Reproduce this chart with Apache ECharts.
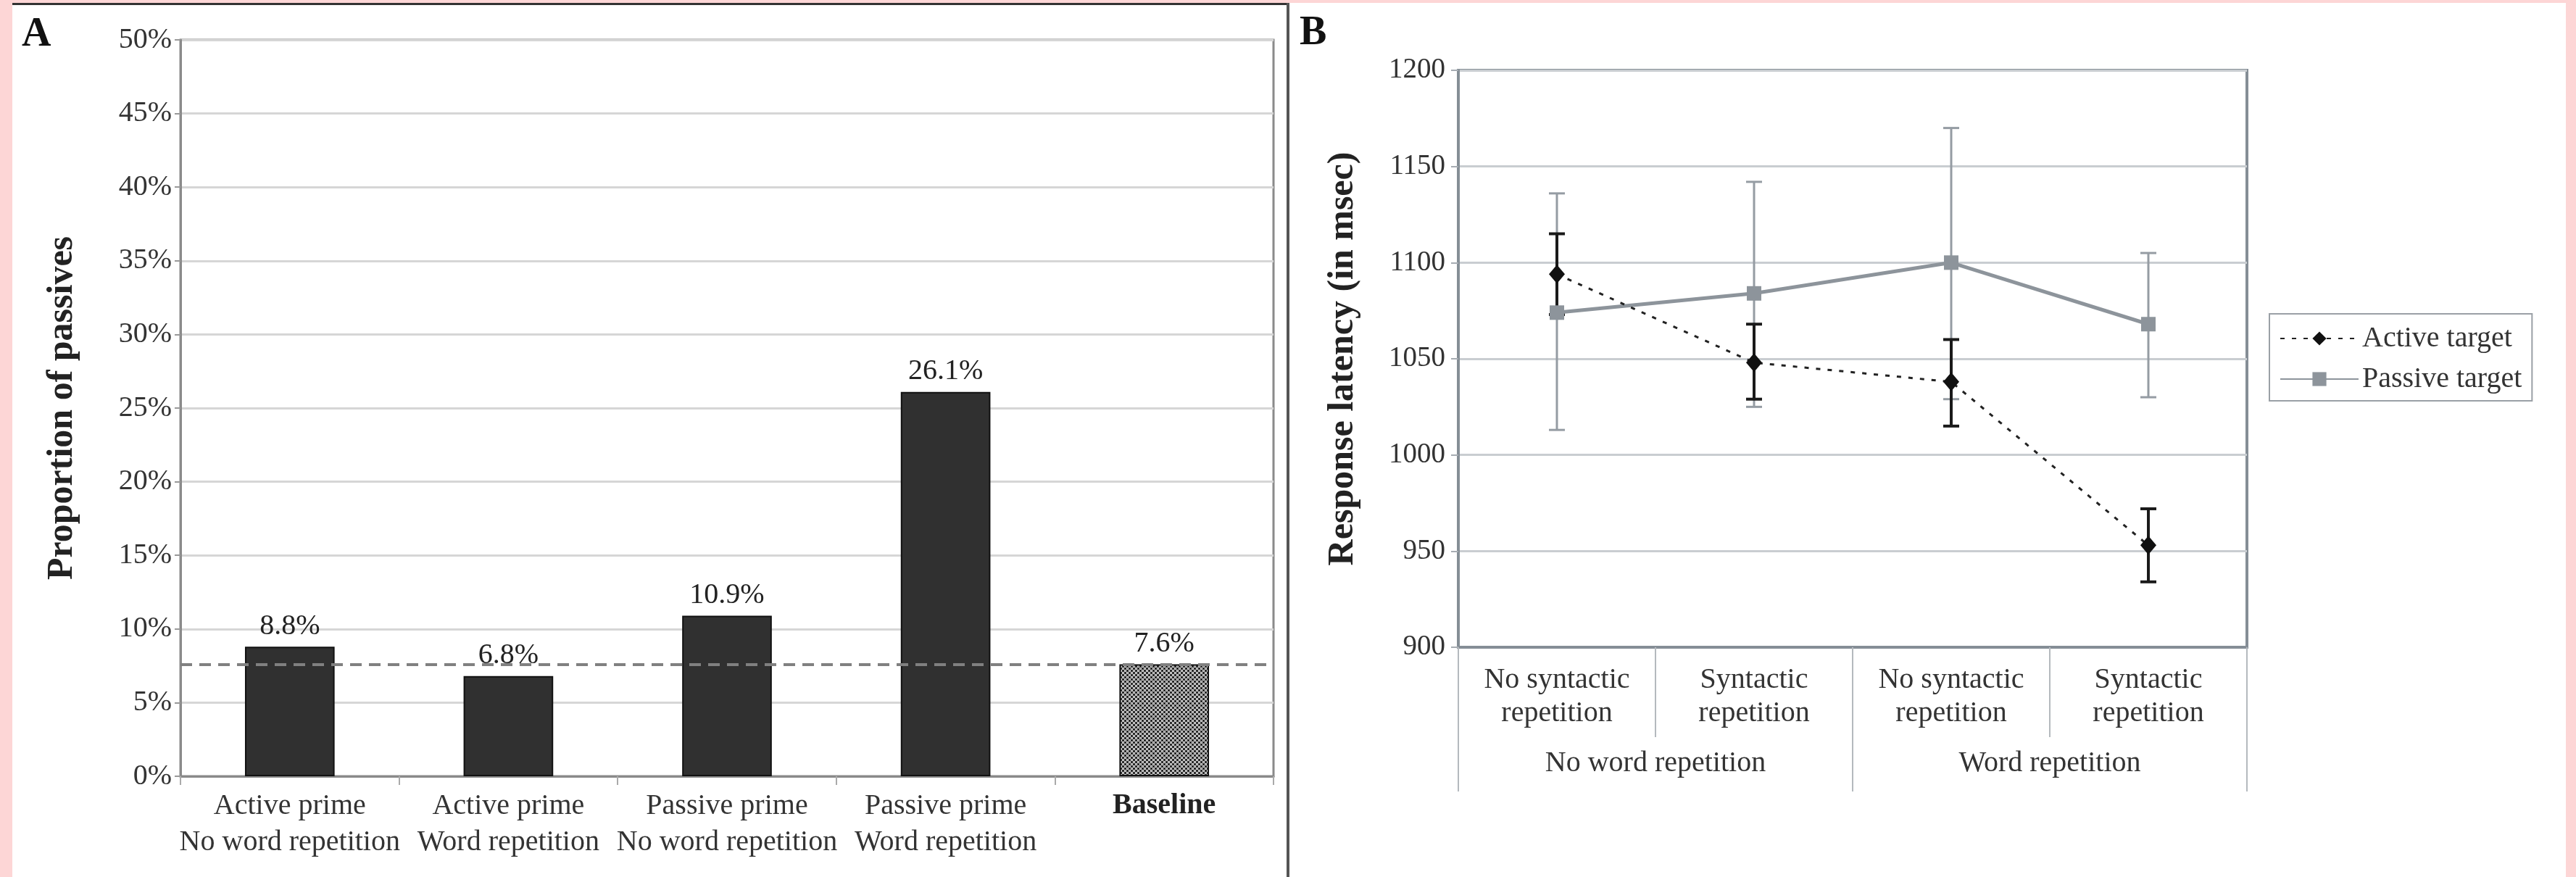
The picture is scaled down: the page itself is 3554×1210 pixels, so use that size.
<!DOCTYPE html>
<html>
<head>
<meta charset="utf-8">
<script src="https://cdn.jsdelivr.net/npm/echarts@6/dist/echarts.min.js"></script>
<style>
  html, body { margin: 0; padding: 0; background: #fdd6d6; }
  #sheet { position: absolute; left: 17px; top: 4px; width: 3523px; height: 1206px; background: #fff; }
  #topRule { position: absolute; left: 17px; top: 4px; width: 1760px; height: 3px; background: #333; }
  #divider { position: absolute; left: 1775px; top: 4px; width: 4px; height: 1206px; background: #555; }
  #chart { position: absolute; left: 0; top: 0; width: 3554px; height: 1210px; }
</style>
</head>
<body>
<div id="sheet"></div>
<div id="topRule"></div>
<div id="divider"></div>
<div id="chart"></div>
<script>
// panel A - proportion of passives
var primeConditions = [
    'Active prime\nNo word repetition',
    'Active prime\nWord repetition',
    'Passive prime\nNo word repetition',
    'Passive prime\nWord repetition',
    'Baseline'
];
var passiveRates = [8.8, 6.8, 10.9, 26.1, 7.6];
var baselineRate = 7.6;

// panel B - response latency
var syntaxConditions = [
    'No syntactic\nrepetition',
    'Syntactic\nrepetition',
    'No syntactic\nrepetition',
    'Syntactic\nrepetition'
];
var wordGroups = ['No word repetition', 'Word repetition'];
var activeMean = [1094, 1048, 1038, 953];
var activeLow = [1073, 1029, 1015, 934];
var activeHigh = [1115, 1068, 1060, 972];
var passiveMean = [1074, 1084, 1100, 1068];
var passiveLow = [1013, 1025, 1029, 1030];
var passiveHigh = [1136, 1142, 1170, 1105];

var SERIF = 'Liberation Serif';

// checker fill for the baseline bar
var pat = document.createElement('canvas');
pat.width = 6; pat.height = 6;
var pc = pat.getContext('2d');
pc.fillStyle = '#d8d8d8';
pc.fillRect(0, 0, 6, 6);
pc.fillStyle = '#2a2a2a';
pc.fillRect(0, 0, 3, 3);
pc.fillRect(3, 3, 3, 3);
pc.fillStyle = '#555';
pc.fillRect(1, 4, 1, 1);
pc.fillRect(4, 1, 1, 1);

var errorBars = function(color, width) {
    return function(params, api) {
        var x = api.value(0);
        var lo = api.coord([x, api.value(1)]);
        var hi = api.coord([x, api.value(2)]);
        var h = 11;
        var st = { stroke: color, lineWidth: width };
        return {
            type: 'group',
            children: [
                { type: 'line', shape: { x1: lo[0], y1: lo[1], x2: hi[0], y2: hi[1] }, style: st },
                { type: 'line', shape: { x1: lo[0] - h, y1: lo[1], x2: lo[0] + h, y2: lo[1] }, style: st },
                { type: 'line', shape: { x1: hi[0] - h, y1: hi[1], x2: hi[0] + h, y2: hi[1] }, style: st }
            ]
        };
    };
};

var barData = passiveRates.map(function(v, i) {
    if (i === passiveRates.length - 1) {
        return { value: v, itemStyle: { color: { image: pat, repeat: 'repeat' } } };
    }
    return v;
});

var activeErr = activeMean.map(function(v, i) { return [i, activeLow[i], activeHigh[i]]; });
var passiveErr = passiveMean.map(function(v, i) { return [i, passiveLow[i], passiveHigh[i]]; });

var myChart = echarts.init(document.getElementById('chart'));
var option = {
    animation: false,
    textStyle: { fontFamily: SERIF },
    title: [
        { text: 'A', left: 25, top: 16, textStyle: { fontFamily: SERIF, fontSize: 56, fontWeight: 'bold', color: '#111' } },
        { text: 'B', left: 1788, top: 14, textStyle: { fontFamily: SERIF, fontSize: 56, fontWeight: 'bold', color: '#111' } }
    ],
    grid: [
        { left: 249, top: 55, width: 1508, height: 1016, show: true, borderColor: '#8a8a8a', borderWidth: 3 },
        { left: 2012, top: 97, width: 1088, height: 796, show: true, borderColor: '#858e96', borderWidth: 4 }
    ],
    legend: {
        data: ['Active target', 'Passive target'],
        orient: 'vertical',
        left: 3131,
        top: 433,
        borderColor: '#9aa0a6',
        borderWidth: 2,
        padding: [14, 14, 10, 14],
        itemWidth: 108,
        itemHeight: 24,
        itemGap: 16,
        textStyle: { fontFamily: SERIF, fontSize: 40, color: '#333' }
    },
    xAxis: [
        {
            type: 'category', gridIndex: 0, data: primeConditions,
            axisLine: { lineStyle: { color: '#8a8a8a', width: 3 } },
            axisTick: { show: true, interval: 0, length: 12, lineStyle: { color: '#aaa', width: 2 } },
            axisLabel: {
                fontFamily: SERIF, fontSize: 40, lineHeight: 50, color: '#333', margin: 16, interval: 0,
                formatter: function(v) { return v === 'Baseline' ? '{b|' + v + '}' : v; },
                rich: { b: { fontFamily: SERIF, fontSize: 40, fontWeight: 'bold', color: '#222' } }
            }
        },
        {
            type: 'category', gridIndex: 1, data: syntaxConditions, position: 'bottom',
            axisLine: { lineStyle: { color: '#858e96', width: 4 } },
            axisTick: { show: true, length: 124, interval: 0, lineStyle: { color: '#b4b9be', width: 2 } },
            axisLabel: { fontFamily: SERIF, fontSize: 40, lineHeight: 46, color: '#333', margin: 22, interval: 0 }
        },
        {
            type: 'category', gridIndex: 1, data: wordGroups, position: 'bottom',
            axisLine: { show: false },
            axisTick: { show: true, length: 199, interval: 0, lineStyle: { color: '#b4b9be', width: 2 } },
            axisLabel: { fontFamily: SERIF, fontSize: 40, color: '#333', margin: 140, interval: 0 }
        }
    ],
    yAxis: [
        {
            type: 'value', gridIndex: 0, min: 0, max: 50, interval: 5,
            name: 'Proportion of passives', nameLocation: 'middle', nameGap: 138, nameRotate: 90,
            nameTextStyle: { fontFamily: SERIF, fontSize: 50, fontWeight: 'bold', color: '#222' },
            axisLine: { show: true, lineStyle: { color: '#8a8a8a', width: 3 } },
            axisTick: { show: true, length: 8, lineStyle: { color: '#999', width: 2 } },
            axisLabel: { fontFamily: SERIF, fontSize: 40, color: '#333', margin: 12, formatter: '{value}%' },
            splitLine: { lineStyle: { color: '#d6d6d6', width: 3 } }
        },
        {
            type: 'value', gridIndex: 1, min: 900, max: 1200, interval: 50,
            name: 'Response latency (in msec)', nameLocation: 'middle', nameGap: 134, nameRotate: 90,
            nameTextStyle: { fontFamily: SERIF, fontSize: 50, fontWeight: 'bold', color: '#222' },
            axisLine: { show: true, lineStyle: { color: '#858e96', width: 4 } },
            axisTick: { show: true, length: 10, lineStyle: { color: '#a6acb2', width: 2 } },
            axisLabel: {
                fontFamily: SERIF, fontSize: 39, color: '#333', margin: 18,
                formatter: function(v) { return String(v); }
            },
            splitLine: { lineStyle: { color: '#c9cdd1', width: 3 } }
        }
    ],
    series: [
        {
            name: 'Proportion', type: 'bar', xAxisIndex: 0, yAxisIndex: 0,
            data: barData, barWidth: '41%',
            itemStyle: { color: '#303030', borderColor: '#111', borderWidth: 2 },
            label: {
                show: true, position: 'top', distance: 8,
                fontFamily: SERIF, fontSize: 40, color: '#222',
                formatter: function(p) { return p.value + '%'; }
            },
            markLine: {
                silent: true, symbol: 'none',
                label: { show: false },
                lineStyle: { color: '#808080', width: 4, type: [16, 10] },
                data: [{ yAxis: baselineRate }]
            }
        },
        {
            name: 'Passive SE', type: 'custom', xAxisIndex: 1, yAxisIndex: 1, z: 2,
            renderItem: errorBars('#959ca3', 3),
            encode: { x: 0, y: [1, 2] },
            data: passiveErr
        },
        {
            name: 'Active SE', type: 'custom', xAxisIndex: 1, yAxisIndex: 1, z: 3,
            renderItem: errorBars('#1a1a1a', 4),
            encode: { x: 0, y: [1, 2] },
            data: activeErr
        },
        {
            name: 'Passive target', type: 'line', xAxisIndex: 1, yAxisIndex: 1, z: 4,
            data: passiveMean,
            symbol: 'rect', symbolSize: 20,
            itemStyle: { color: '#8d949b' },
            lineStyle: { color: '#8d949b', width: 5 }
        },
        {
            name: 'Active target', type: 'line', xAxisIndex: 1, yAxisIndex: 1, z: 5,
            data: activeMean,
            symbol: 'diamond', symbolSize: [22, 26],
            itemStyle: { color: '#111' },
            lineStyle: { color: '#222', width: 3, type: [6, 10] }
        }
    ]
};
myChart.setOption(option);
</script>
</body>
</html>
